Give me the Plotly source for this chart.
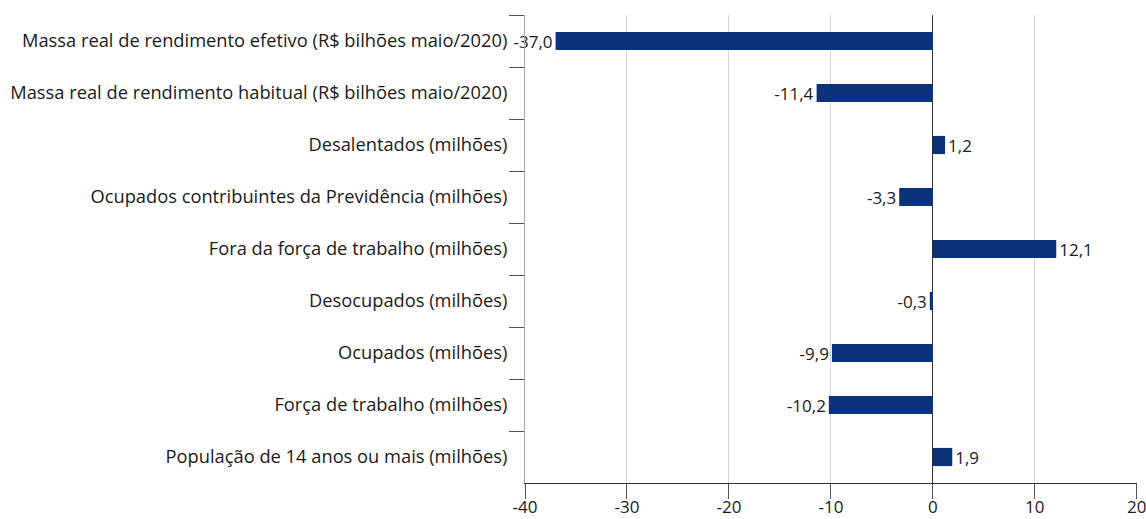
import plotly.graph_objects as go

# Categories top to bottom, as in the reference
categorias = [
    "Massa real de rendimento efetivo (R$ bilhões maio/2020)",
    "Massa real de rendimento habitual (R$ bilhões maio/2020)",
    "Desalentados (milhões)",
    "Ocupados contribuintes da Previdência (milhões)",
    "Fora da força de trabalho (milhões)",
    "Desocupados (milhões)",
    "Ocupados (milhões)",
    "Força de trabalho (milhões)",
    "População de 14 anos ou mais (milhões)",
]
variacao = [-37.0, -11.4, 1.2, -3.3, 12.1, -0.3, -9.9, -10.2, 1.9]

tick_vals = [-40, -30, -20, -10, 0, 10, 20]
tick_text = ["-40", "-30", "-20", "-10", "0", "10", "20"]

fig = go.Figure()
fig.add_trace(go.Bar(
    x=variacao,
    y=categorias,
    orientation="h",
    width=0.35,
    marker=dict(color="#0b337a", line=dict(width=0)),
    texttemplate="%{x:.1f}",
    textposition="outside",
    constraintext="none",
    textfont=dict(size=17, color="#1a1a1a"),
    cliponaxis=False,
))

fig.update_layout(
    width=1146,
    height=519,
    margin=dict(l=525, r=9, t=15, b=36, autoexpand=False),
    paper_bgcolor="white",
    plot_bgcolor="white",
    separators=",.",
    font=dict(family="Open Sans", size=17, color="#1a1a1a"),
    showlegend=False,
)

fig.update_xaxes(
    range=[-40, 20.02],
    tickvals=tick_vals,
    ticktext=tick_text,
    showgrid=True,
    gridcolor="#d4d4d4",
    gridwidth=1,
    zeroline=True,
    zerolinecolor="#333333",
    zerolinewidth=1,
    showline=True,
    linecolor="#333333",
    linewidth=1,
    ticks="outside",
    ticklen=15,
    tickcolor="#555555",
    tickfont=dict(size=17, color="#1a1a1a"),
    ticklabelstandoff=-6,
    ticklabeloverflow="allow",
    automargin=False,
)

fig.update_yaxes(
    autorange="reversed",
    showgrid=False,
    showline=True,
    linecolor="#aaaaaa",
    linewidth=1,
    ticks="outside",
    tickson="boundaries",
    ticklen=15,
    tickcolor="#555555",
    tickfont=dict(size=18.3, color="#1a1a1a"),
    ticklabelstandoff=13,
    automargin=False,
)

# remove the default page margin so the figure sits at the window's corner
fig.write_html(
    "out.html",
    config={"displayModeBar": False},
    post_script="document.body.style.margin='0';",
)
